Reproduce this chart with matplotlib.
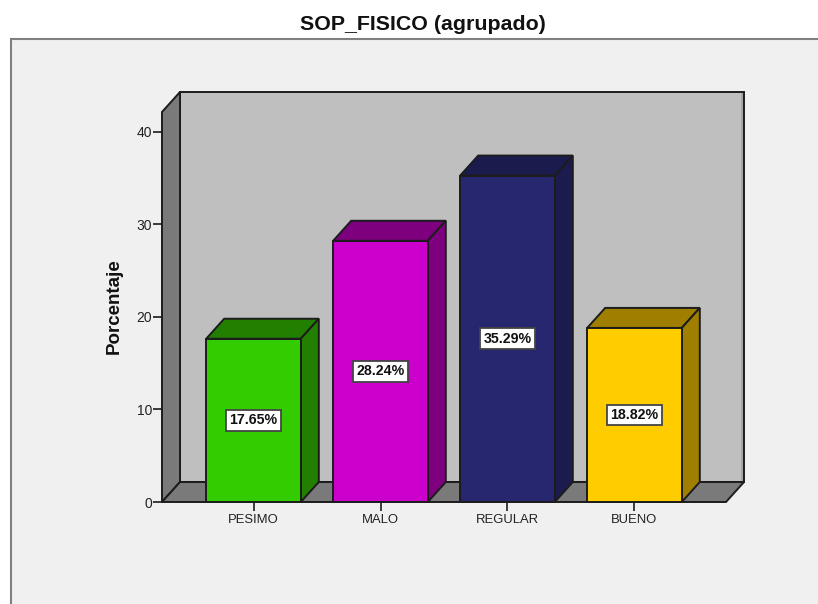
import matplotlib
matplotlib.use('Agg')
import matplotlib.pyplot as plt
from matplotlib.patches import Polygon, Rectangle

categories = ['PESIMO', 'MALO', 'REGULAR', 'BUENO']
percent = [17.65, 28.24, 35.29, 18.82]
front_colors = ['#33cc00', '#cc00cc', '#26276f', '#ffcc00']
top_colors = ['#237f00', '#7f007f', '#1b1b4e', '#a07f00']
y_ticks = [0, 10, 20, 30, 40]

W, H = 818, 604
EDGE = '#1c1c1c'
BAR_WIDTH = 0.745
# depth of the 3d box, in data units
DX = 18 / 127
DY = 20 / 9.25
XLIM = (-0.7205, 3.7205)
YLIM = (0, 42.16)

plt.rcParams['font.family'] = ['Liberation Sans', 'DejaVu Sans']

fig = plt.figure(figsize=(W / 100, H / 100), dpi=100, facecolor='white')

# grey panel behind the chart, its bottom and right edges run off the figure
fig.patches.append(Rectangle((11 / W, -0.02), 1, 1.02 - 39 / H, transform=fig.transFigure,
                             facecolor='#f0f0f0', edgecolor='#808080', linewidth=1.5, zorder=-1))

ax = fig.add_axes([162 / W, 1 - 502 / H, 564 / W, 390 / H])
ax.set_xlim(*XLIM)
ax.set_ylim(*YLIM)
ax.patch.set_visible(False)
for s in ax.spines.values():
    s.set_visible(False)


def poly(points, color, z=1, lw=1.4):
    ax.add_patch(Polygon(points, closed=True, facecolor=color, edgecolor=EDGE,
                         linewidth=lw, joinstyle='miter', clip_on=False, zorder=z))


x0, x1 = XLIM
y1 = YLIM[1]

# back wall, left wall and floor
poly([(x0 + DX, DY), (x1 + DX, DY), (x1 + DX, y1 + DY), (x0 + DX, y1 + DY)], '#bfbfbf')
ax.plot([x1 + DX - 0.016] * 2, [DY + 0.2, y1 + DY - 0.2], color='#a4a4a4', lw=1.4,
        clip_on=False, zorder=1.5)
poly([(x0, 0), (x0 + DX, DY), (x0 + DX, y1 + DY), (x0, y1)], '#7a7a7a')
poly([(x0, 0), (x1, 0), (x1 + DX, DY), (x0 + DX, DY)], '#7a7a7a')

positions = list(range(len(categories)))
bars = ax.bar(positions, percent, width=BAR_WIDTH, color=front_colors, edgecolor=EDGE,
              linewidth=1.4, zorder=3, clip_on=False)

for x, v, t in zip(positions, percent, top_colors):
    l, r = x - BAR_WIDTH / 2, x + BAR_WIDTH / 2
    poly([(l, v), (r, v), (r + DX, v + DY), (l + DX, v + DY)], t, z=2)
    poly([(r, 0), (r + DX, DY), (r + DX, v + DY), (r, v)], t, z=2)
    ax.text(x, v / 2, f'{v:.2f}%', ha='center', va='center', fontsize=10.2, fontweight='bold',
            color='#111111', zorder=4,
            bbox=dict(boxstyle='square,pad=0.24', facecolor='white', edgecolor='#444444', linewidth=1.3))

ax.set_xticks(positions)
ax.set_xticklabels(categories)
ax.set_yticks(y_ticks)
ax.tick_params(axis='x', length=6.5, width=1.2, color=EDGE, labelsize=9.4, labelcolor='#222222', pad=2)
ax.tick_params(axis='y', length=6.5, width=1.2, color=EDGE, labelsize=10, labelcolor='#222222', pad=0.5)

fig.text(114 / W, 1 - 306 / H, 'Porcentaje', rotation=90, ha='center', va='center',
         fontsize=13.5, fontweight='bold', color='#111111')
fig.text(423 / W, 1 - 24 / H, 'SOP_FISICO (agrupado)', ha='center', va='center',
         fontsize=15.4, fontweight='bold', color='#111111')

fig.savefig('out.png', dpi=100)
